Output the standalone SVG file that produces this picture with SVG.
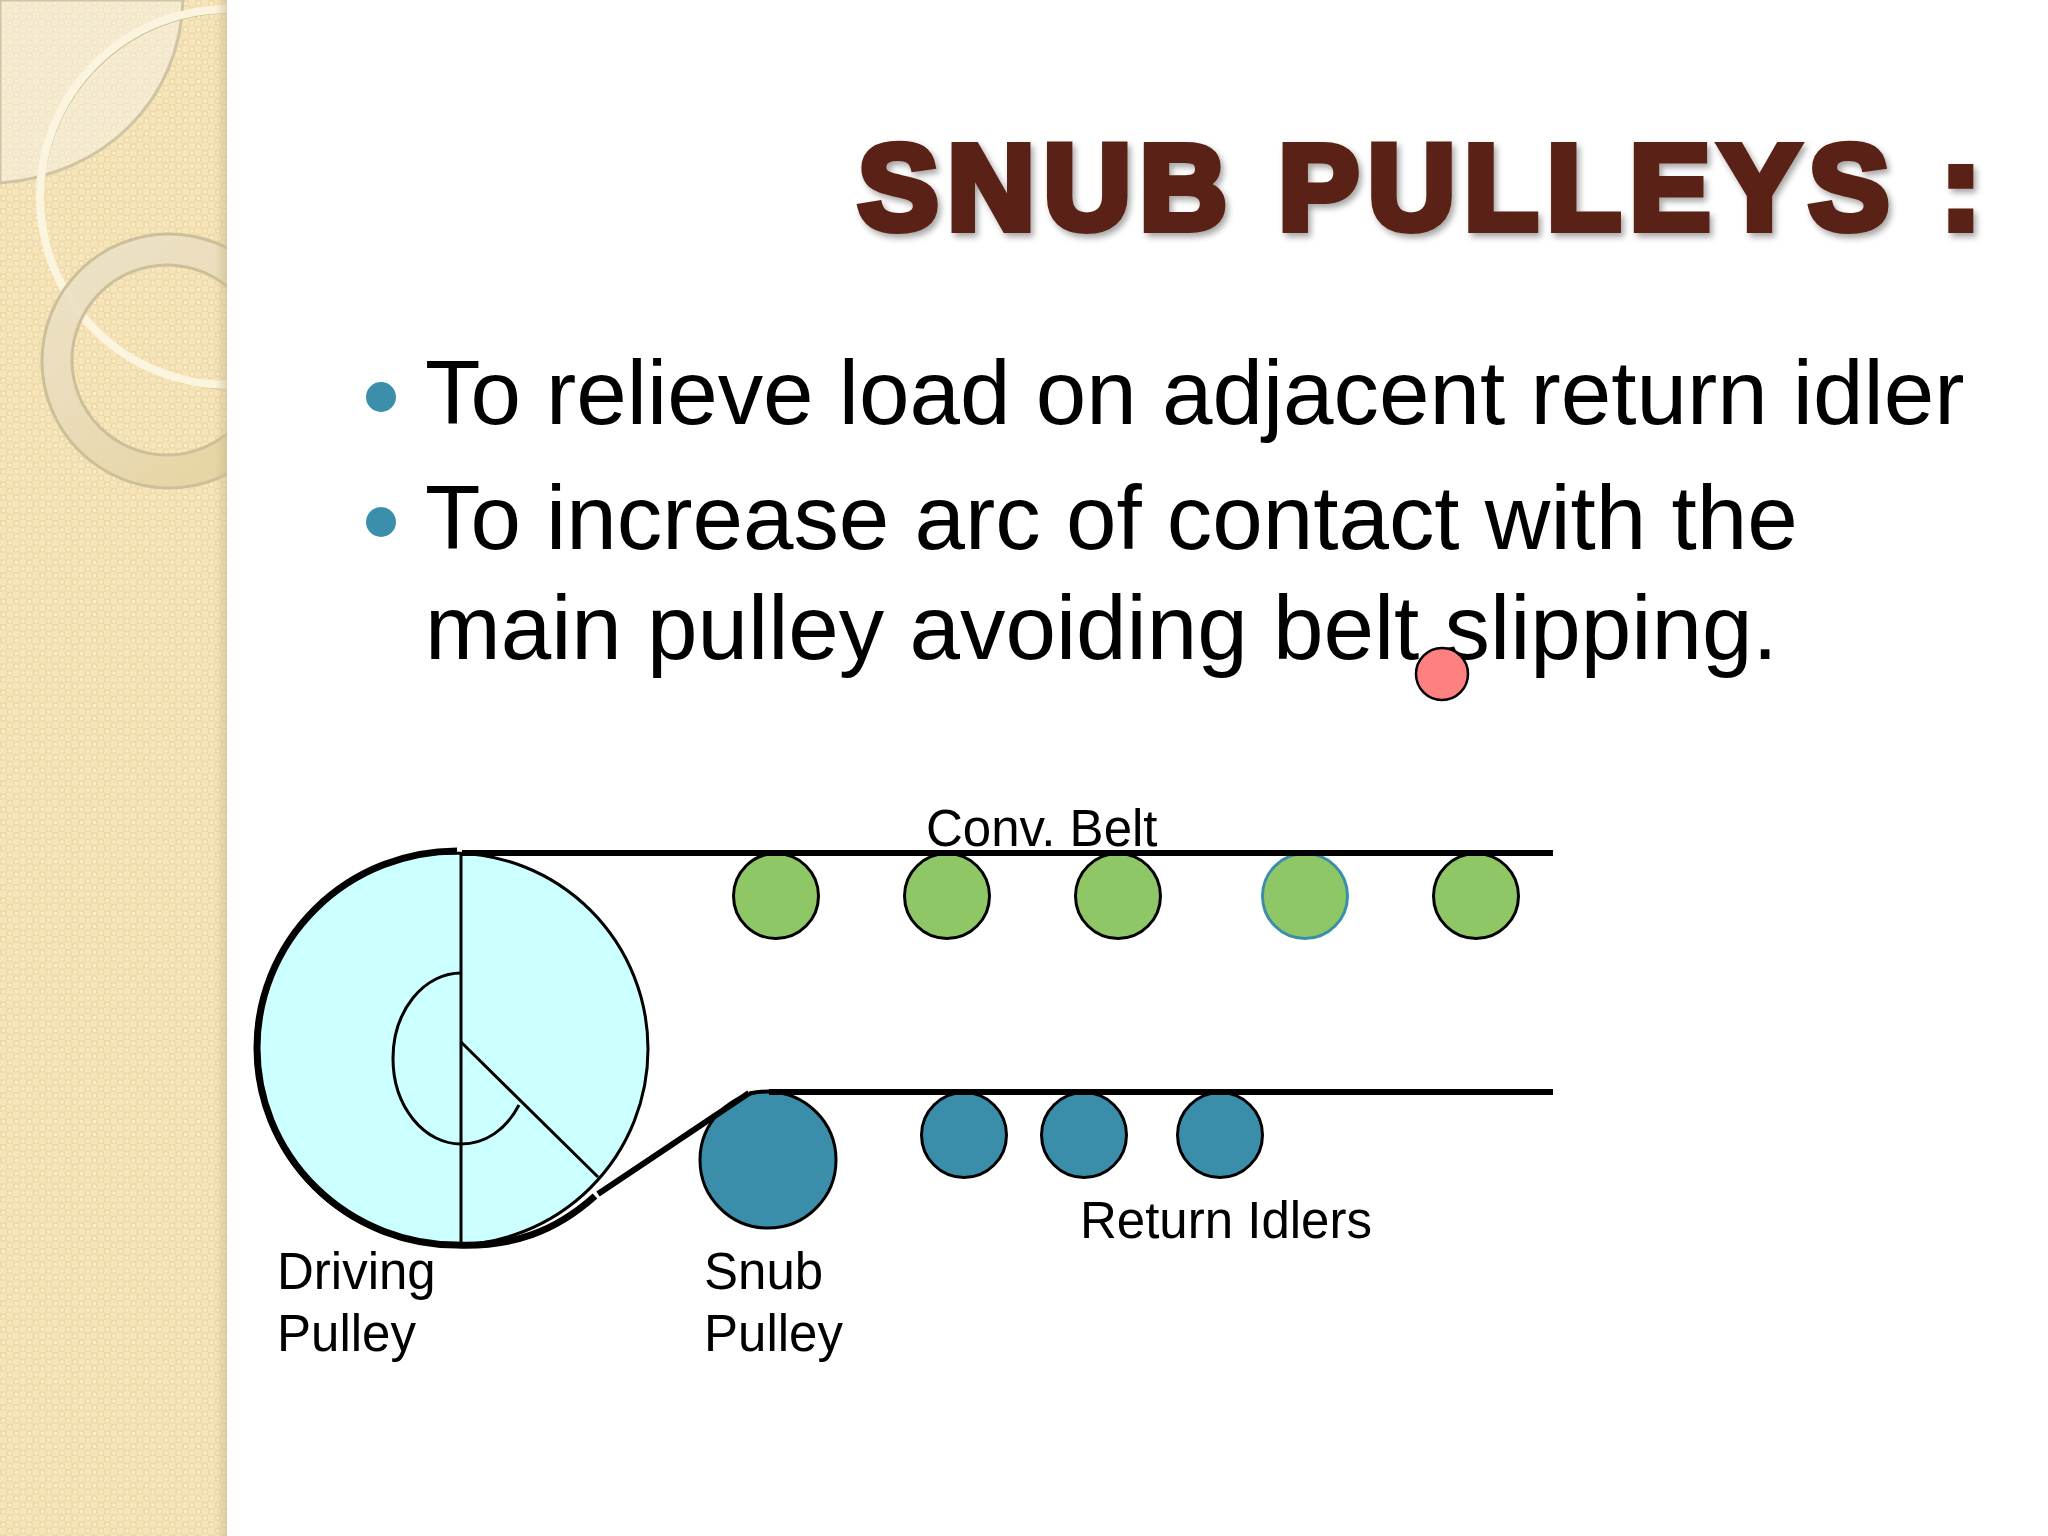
<svg xmlns="http://www.w3.org/2000/svg" width="2048" height="1536" viewBox="0 0 2048 1536">
<style>
text{font-family:"Liberation Sans",Arial,sans-serif;fill:#000}
.body{font-size:90.8px}
.lbl{font-size:51px}
.title{font-size:120px;font-weight:bold;fill:#5a2314;stroke:#5a2314;stroke-width:8px;stroke-linejoin:miter;letter-spacing:9px}
.idlerG{fill:#8fc766;stroke:#000;stroke-width:3}
.idlerB{fill:#3b8ea9;stroke:#000;stroke-width:3}
.thin{fill:none;stroke:#000;stroke-width:3}
.belt{fill:none;stroke:#000;stroke-width:6}
.bullet{fill:#3b8fab}
</style>
<defs>
<pattern id="weave" width="13" height="13" patternUnits="userSpaceOnUse">
<rect width="13" height="13" fill="#f6e5bb"/>
<rect x="0" y="0" width="6.500" height="6.500" fill="#efdaa8"/>
<rect x="6.500" y="6.500" width="6.500" height="6.500" fill="#efdaa8"/>
<rect x="2" y="2" width="3" height="3" fill="#f9edce"/>
<rect x="8.500" y="8.500" width="3" height="3" fill="#f9edce"/>
</pattern>
<linearGradient id="ringG" x1="0" y1="0" x2="0.700" y2="1">
<stop offset="0" stop-color="#ece3cb"/><stop offset="0.500" stop-color="#eadcbb"/><stop offset="1" stop-color="#e5d29e"/>
</linearGradient>
<linearGradient id="edge" x1="0" x2="1" y1="0" y2="0">
<stop offset="0" stop-color="#c9b88c" stop-opacity="0"/><stop offset="1" stop-color="#c9b88c" stop-opacity="0.550"/>
</linearGradient>
<filter id="shadow" x="-5%" y="-20%" width="110%" height="140%">
<feDropShadow dx="3" dy="4" stdDeviation="3" flood-color="#000" flood-opacity="0.350"/>
</filter>
<clipPath id="side"><rect width="227" height="1536"/></clipPath>
</defs>
<rect width="2048" height="1536" fill="#fff"/>
<g id="sidebar" clip-path="url(#side)">
<rect width="227" height="1536" fill="url(#weave)"/>
<path d="M0,0H183C180,100 105,175 0,183Z" fill="#f7f0e0" fill-opacity="0.600" stroke="#cfc4a4" stroke-width="3"/>
<circle cx="228" cy="197" r="188" fill="none" stroke="#c9bb94" stroke-width="3" transform="translate(2,3)"/>
<circle cx="228" cy="197" r="188" fill="none" stroke="#fbf5e0" stroke-width="8"/>
<path fill-rule="evenodd" d="M296,361a127,127 0 1 0 -254,0a127,127 0 1 0 254,0ZM262,360a95,95 0 1 0 -190,0a95,95 0 1 0 190,0Z" fill="url(#ringG)" fill-opacity="0.900" stroke="#cdbf99" stroke-width="3"/>
<rect x="215" width="12" height="1536" fill="url(#edge)"/>
</g>
<g id="title"><text class="title" x="858" y="229" textLength="1132" lengthAdjust="spacingAndGlyphs" filter="url(#shadow)">SNUB PULLEYS :</text></g>
<g id="bullets">
<circle class="bullet" cx="381" cy="397" r="15"/>
<circle class="bullet" cx="381" cy="522" r="15"/>
<text class="body" x="425" y="424">To relieve load on adjacent return idler</text>
<text class="body" x="425" y="549">To increase arc of contact with the</text>
<text class="body" x="425" y="659">main pulley avoiding belt slipping.</text>
</g>
<g id="driving-pulley">
<circle cx="452" cy="1049" r="196" fill="#ccffff" stroke="#000" stroke-width="3"/>
<path class="thin" d="M461,853V1246"/>
<path class="thin" d="M461,1042L598,1177"/>
<path class="thin" d="M461,973A68,85.500 0 1 0 461,1144C485,1144 506,1130 519,1105"/>
<text class="lbl" x="277" y="1289">Driving</text>
<text class="lbl" x="277" y="1351">Pulley</text>
</g>
<g id="snub-pulley">
<circle class="idlerB" cx="768" cy="1160" r="68"/>
<text class="lbl" x="704" y="1289">Snub</text>
<text class="lbl" x="704" y="1351">Pulley</text>
</g>
<g id="carry-idlers">
<circle class="idlerG" cx="776" cy="896" r="42.500"/>
<circle class="idlerG" cx="947" cy="896" r="42.500"/>
<circle class="idlerG" cx="1118" cy="896" r="42.500"/>
<circle class="idlerG" cx="1305" cy="896" r="42.500" style="stroke:#3b8ea9"/>
<circle class="idlerG" cx="1476" cy="896" r="42.500"/>
</g>
<g id="return-idlers">
<circle class="idlerB" cx="964" cy="1135" r="42.500"/>
<circle class="idlerB" cx="1084" cy="1135" r="42.500"/>
<circle class="idlerB" cx="1220" cy="1135" r="42.500"/>
</g>
<g id="connectors">
<path class="belt" d="M462,853H1553"/>
<path class="belt" d="M769,1092H1553"/>
<path class="belt" style="stroke-width:7" d="M457,851A200,197 0 0 0 457,1245C512,1247 555,1232 595,1196"/>
<path class="belt" d="M598,1194L749,1093"/>
<path class="thin" d="M749,1093Q758,1091 769,1091"/>
</g>
<g id="labels">
<text class="lbl" x="926" y="846">Conv. Belt</text>
<text class="lbl" x="1080" y="1238">Return Idlers</text>
</g>
<g id="ball"><circle cx="1442" cy="674" r="26" fill="#ff8080" stroke="#000" stroke-width="2.500"/></g>
</svg>
